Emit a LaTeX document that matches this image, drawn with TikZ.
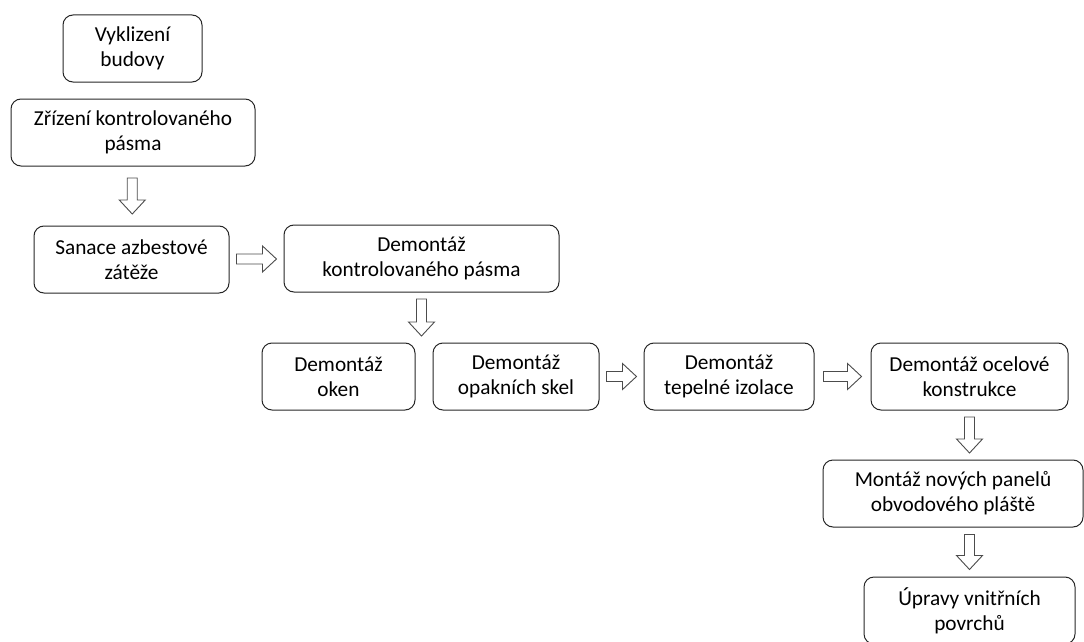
\documentclass[tikz,border=0pt]{standalone}
\usepackage{fontspec}
\setmainfont{Carlito}
\usetikzlibrary{calc}
\tikzset{
  box/.style={draw=black!85, line width=1pt, rounded corners=10pt, align=center,
    inner sep=2pt, font=\fontsize{21.3}{25}\selectfont, text=black},
  blockarrow/.style={draw=black!70, line width=0.9pt, fill=white, line join=miter},
  pics/darrow/.style={code={
    \draw[blockarrow] (-5,-#1/2) -- (5,-#1/2) -- (5,#1/2-14) -- (13,#1/2-14) -- (0,#1/2)
      -- (-13,#1/2-14) -- (-5,#1/2-14) -- cycle;}},
  pics/rarrow/.style={code={
    \draw[blockarrow] (-#1/2,-5) -- (#1/2-14,-5) -- (#1/2-14,-13) -- (#1/2,0)
      -- (#1/2-14,13) -- (#1/2-14,5) -- (-#1/2,5) -- cycle;}}
}
\begin{document}
\begin{tikzpicture}[x=1pt,y=-1pt]
\useasboundingbox (0,0) rectangle (1084,642);
\node[box, minimum width=139pt, minimum height=67pt] (b1) at (132.5,48.5) {Vyklizení\\budovy};
\node[box, minimum width=244pt, minimum height=67pt] (b2) at (133,132.5) {Zřízení kontrolovaného\\pásma};
\node[box, minimum width=195pt, minimum height=67pt] (b3) at (131.5,259.5) {Sanace azbestové\\zátěže};
\node[box, minimum width=275pt, minimum height=67pt] (b4) at (421.5,258.5) {Demontáž\\kontrolovaného pásma};
\node[box, minimum width=153pt, minimum height=67pt] (b5) at (338.5,376.5) {Demontáž\\oken};
\node[box, minimum width=166pt, minimum height=67pt] (b6) at (516,376.5) {Demontáž\\opakních skel};
\node[box, minimum width=170pt, minimum height=67pt] (b7) at (729,376.5) {Demontáž\\tepelné izolace};
\node[box, minimum width=197pt, minimum height=67pt] (b8) at (969.5,376.5) {Demontáž ocelové\\konstrukce};
\node[box, minimum width=260pt, minimum height=67pt] (b9) at (953,493.5) {Montáž nových panelů\\obvodového pláště};
\node[box, minimum width=211pt, minimum height=67pt] (b10) at (969.5,610.5) {Úpravy vnitřních\\povrchů};

\coordinate (a1) at ($(b2.south)!0.5!(b3.north)$);
\coordinate (a2) at ($(b3.east)!0.5!(b4.west)$);
\coordinate (a3) at ($(b4.south)!0.5!(b4.south |- b5.north)$);
\coordinate (a4) at ($(b6.east)!0.5!(b7.west)$);
\coordinate (a5) at ($(b7.east)!0.5!(b8.west)$);
\coordinate (a6) at ($(b8.south)!0.5!(b8.south |- b9.north)$);
\coordinate (a7) at ($(b10.north |- b9.south)!0.5!(b10.north)$);

\pic at (a1) {darrow=36};
\pic at (a2) {rarrow=40};
\pic at (a3) {darrow=37};
\pic at (a4) {rarrow=30};
\pic at (a5) {rarrow=38};
\pic at (a6) {darrow=36};
\pic at (a7) {darrow=35};
\end{tikzpicture}
\end{document}
